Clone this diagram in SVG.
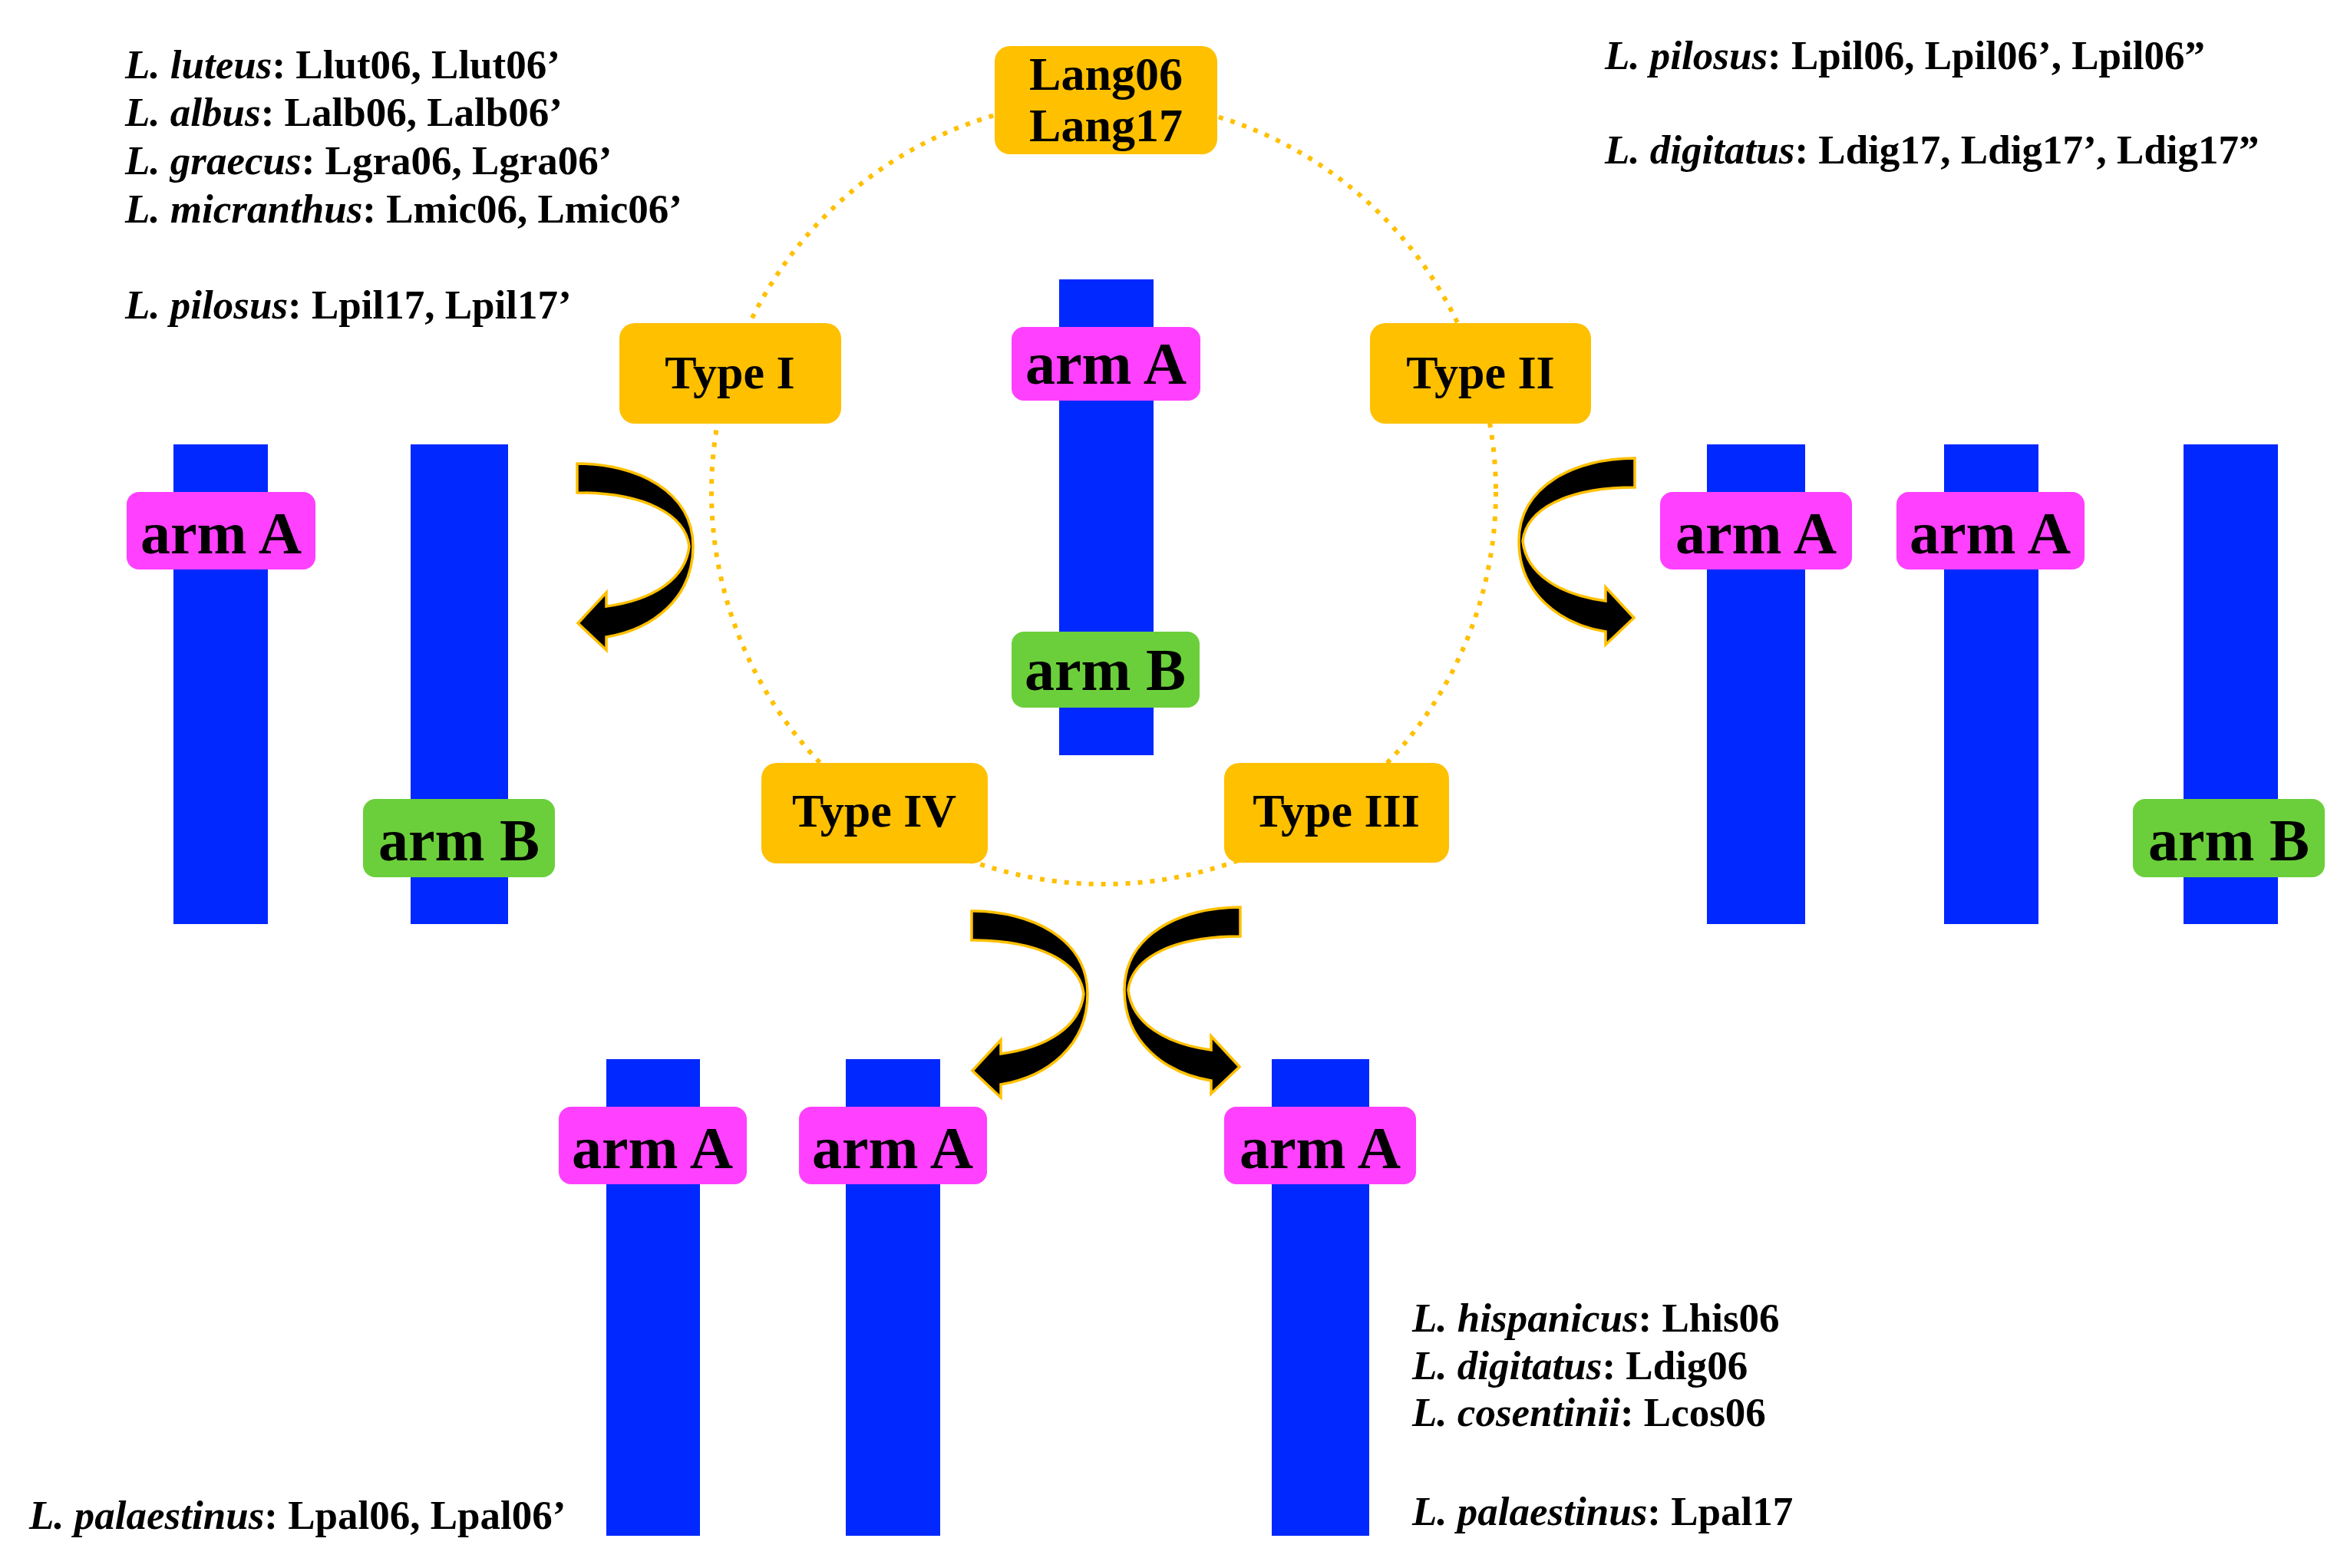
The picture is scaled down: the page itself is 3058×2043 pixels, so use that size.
<svg xmlns="http://www.w3.org/2000/svg" width="3058" height="2043" viewBox="0 0 3058 2043">
<style>
.chr{fill:#0028FF}
.a{fill:#FF40FF}
.b{fill:#6BCF3B}
.o{fill:#FFC000}
.lbl{font-family:"Liberation Serif","Times New Roman",serif;font-weight:bold;font-size:78px;text-anchor:middle;fill:#000}
.typ{font-family:"Liberation Serif","Times New Roman",serif;font-weight:bold;font-size:62px;text-anchor:middle;fill:#000}
.sp{font-family:"Liberation Serif","Times New Roman",serif;font-weight:bold;font-size:53px;fill:#000}
.i{font-style:italic}
.arrow{fill:#000;stroke:#FFC000;stroke-width:3.5;stroke-linejoin:miter}
.dot{fill:none;stroke:#FFC000;stroke-width:6;stroke-dasharray:6 10}
</style>
<defs>
<path id="carrow" d="M0,0 C78,0 151,36 151,108 C151,176 98,216 38,226 L38,243 L1,208 L38,168 L38,186 C98,178 141,151 146,108 C141,66 88,38 0,38 Z"/>
</defs>
<rect x="0" y="0" width="3058" height="2043" fill="#fff"/>

<g id="connectors">
<circle class="dot" cx="1438" cy="641" r="511"/>
<use href="#carrow" class="arrow" transform="translate(752,604)"/>
<use href="#carrow" class="arrow" transform="translate(2130,597) scale(-1,1)"/>
<use href="#carrow" class="arrow" transform="translate(1266,1187)"/>
<use href="#carrow" class="arrow" transform="translate(1616,1182) scale(-1,1)"/>
</g>

<g id="lang">
<rect class="o" x="1296" y="60" width="290" height="141" rx="20"/>
<text class="typ" x="1441" y="117">Lang06</text>
<text class="typ" x="1441" y="184">Lang17</text>
</g>
<g id="type-i">
<rect class="o" x="807" y="421" width="289" height="131" rx="20"/>
<text class="typ" x="951" y="506">Type I</text>
</g>
<g id="type-ii">
<rect class="o" x="1785" y="421" width="288" height="131" rx="20"/>
<text class="typ" x="1929" y="506">Type II</text>
</g>
<g id="type-iii">
<rect class="o" x="1595" y="994" width="293" height="130" rx="20"/>
<text class="typ" x="1741" y="1077">Type III</text>
</g>
<g id="type-iv">
<rect class="o" x="992" y="994" width="295" height="131" rx="20"/>
<text class="typ" x="1139" y="1077">Type IV</text>
</g>

<g id="chr-center">
<rect class="chr" x="1380" y="364" width="123" height="620"/>
<rect class="a" x="1318" y="426" width="246" height="96" rx="16"/>
<text class="lbl" x="1441" y="500">arm A</text>
<rect class="b" x="1318" y="823" width="245" height="99" rx="16"/>
<text class="lbl" x="1440" y="899">arm B</text>
</g>

<g id="chr-left-1">
<rect class="chr" x="226" y="579" width="123" height="625"/>
<rect class="a" x="165" y="641" width="246" height="101" rx="16"/>
<text class="lbl" x="288" y="721">arm A</text>
</g>
<g id="chr-left-2">
<rect class="chr" x="535" y="579" width="127" height="625"/>
<rect class="b" x="473" y="1041" width="250" height="102" rx="16"/>
<text class="lbl" x="598" y="1121">arm B</text>
</g>

<g id="chr-right-1">
<rect class="chr" x="2224" y="579" width="128" height="625"/>
<rect class="a" x="2163" y="641" width="250" height="101" rx="16"/>
<text class="lbl" x="2288" y="721">arm A</text>
</g>
<g id="chr-right-2">
<rect class="chr" x="2533" y="579" width="123" height="625"/>
<rect class="a" x="2471" y="641" width="245" height="101" rx="16"/>
<text class="lbl" x="2593" y="721">arm A</text>
</g>
<g id="chr-right-3">
<rect class="chr" x="2845" y="579" width="123" height="625"/>
<rect class="b" x="2779" y="1041" width="250" height="102" rx="16"/>
<text class="lbl" x="2904" y="1121">arm B</text>
</g>

<g id="chr-bottom-1">
<rect class="chr" x="790" y="1380" width="122" height="621"/>
<rect class="a" x="728" y="1442" width="245" height="101" rx="16"/>
<text class="lbl" x="850" y="1522">arm A</text>
</g>
<g id="chr-bottom-2">
<rect class="chr" x="1102" y="1380" width="123" height="621"/>
<rect class="a" x="1041" y="1442" width="245" height="101" rx="16"/>
<text class="lbl" x="1163" y="1522">arm A</text>
</g>
<g id="chr-bottom-3">
<rect class="chr" x="1657" y="1380" width="127" height="621"/>
<rect class="a" x="1595" y="1442" width="250" height="101" rx="16"/>
<text class="lbl" x="1720" y="1522">arm A</text>
</g>

<g id="species-type-i">
<text class="sp" x="163" y="102"><tspan class="i">L. luteus</tspan>: Llut06, Llut06’</text>
<text class="sp" x="163" y="164"><tspan class="i">L. albus</tspan>: Lalb06, Lalb06’</text>
<text class="sp" x="163" y="227"><tspan class="i">L. graecus</tspan>: Lgra06, Lgra06’</text>
<text class="sp" x="163" y="290"><tspan class="i">L. micranthus</tspan>: Lmic06, Lmic06’</text>
<text class="sp" x="163" y="415"><tspan class="i">L. pilosus</tspan>: Lpil17, Lpil17’</text>
</g>
<g id="species-type-ii">
<text class="sp" x="2091" y="90"><tspan class="i">L. pilosus</tspan>: Lpil06, Lpil06’, Lpil06”</text>
<text class="sp" x="2091" y="213"><tspan class="i">L. digitatus</tspan>: Ldig17, Ldig17’, Ldig17”</text>
</g>
<g id="species-type-iii">
<text class="sp" x="1840" y="1735"><tspan class="i">L. hispanicus</tspan>: Lhis06</text>
<text class="sp" x="1840" y="1797"><tspan class="i">L. digitatus</tspan>: Ldig06</text>
<text class="sp" x="1840" y="1858"><tspan class="i">L. cosentinii</tspan>: Lcos06</text>
<text class="sp" x="1840" y="1987"><tspan class="i">L. palaestinus</tspan>: Lpal17</text>
</g>
<g id="species-type-iv">
<text class="sp" x="38" y="1992"><tspan class="i">L. palaestinus</tspan>: Lpal06, Lpal06’</text>
</g>
</svg>
